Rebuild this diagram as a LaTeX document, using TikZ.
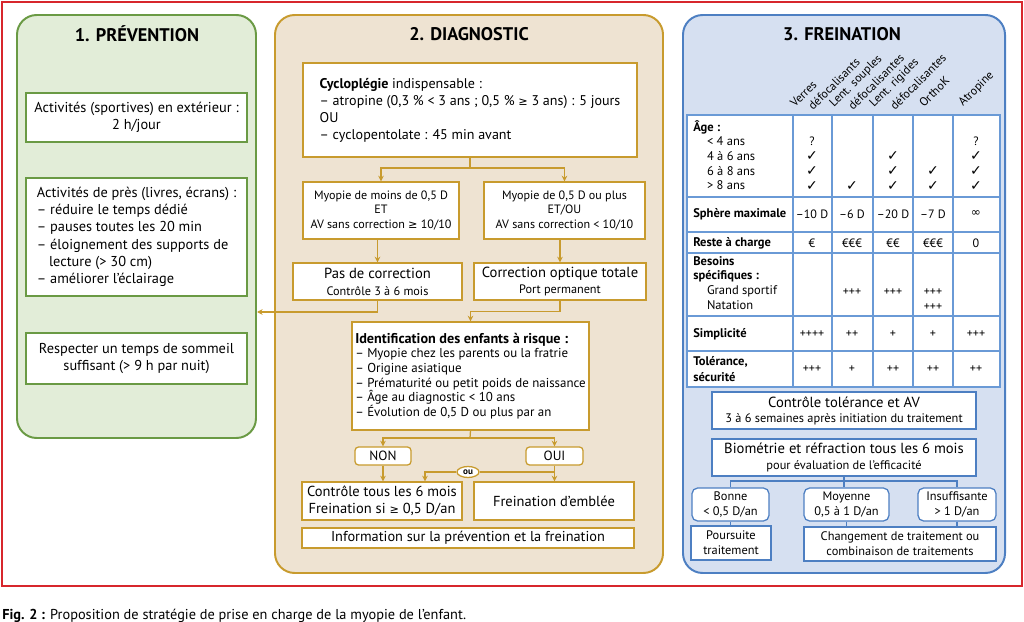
\documentclass[tikz,border=0pt]{standalone}
\usepackage{fontspec}
\setmainfont{PT Sans}
\newfontfamily\symfont{DejaVu Sans}
\usepackage{tikz}
\usetikzlibrary{positioning, arrows.meta, shapes.geometric}

\definecolor{framered}{HTML}{D7262C}
\definecolor{prevgreen}{HTML}{6A9A44}
\definecolor{prevfill}{HTML}{E2EDD8}
\definecolor{diaggold}{HTML}{C89B2E}
\definecolor{diagfill}{HTML}{EEE3D2}
\definecolor{freinblue}{HTML}{4D7FC2}
\definecolor{freinfill}{HTML}{D6E0F1}
\definecolor{tblblue}{HTML}{6A9AD6}

\newlength{\px}
\setlength{\px}{0.025cm}
\newcommand{\ok}{{\symfont\fontsize{10}{10}\selectfont ✓}}
\newcommand{\gesym}{{\symfont\fontsize{8}{9}\selectfont ≥}}
\newcommand{\infsym}{{\symfont ∞}}
\newcommand{\fbig}{\fontsize{10.4}{11.5}\selectfont}
\newcommand{\fsmall}{\fontsize{8.7}{10.5}\selectfont}

\begin{document}
\begin{tikzpicture}[
    x=0.025cm, y=-0.025cm,
    every node/.style={align=center, text=black},
    boxsize/.style 2 args={minimum width=#1\px, minimum height=#2\px},
    panel_green/.style={draw=prevgreen, fill=prevfill, line width=1.4pt, rounded corners=14pt},
    panel_tan/.style={draw=diaggold, fill=diagfill, line width=1.4pt, rounded corners=14pt},
    panel_blue/.style={draw=freinblue, fill=freinfill, line width=1.4pt, rounded corners=14pt},
    panel_title/.style={font=\fontsize{13}{15}\selectfont\bfseries},
    box_green/.style={rectangle, draw=prevgreen, fill=white, line width=0.9pt, inner sep=0pt,
        font=\fontsize{10.2}{12.3}\selectfont},
    box_tan/.style={rectangle, draw=diaggold, fill=white, line width=0.9pt, inner sep=0pt,
        font=\fontsize{10.2}{12}\selectfont},
    box_blue/.style={rectangle, draw=freinblue, fill=white, line width=0.9pt, inner sep=0pt,
        font=\fontsize{8.8}{10.8}\selectfont},
    tag_tan/.style={box_tan, rounded corners=2.5pt, font=\fontsize{9.5}{11}\selectfont},
    tag_blue/.style={box_blue, rounded corners=4pt},
    ou_mark/.style={ellipse, draw=diaggold, fill=white, line width=0.9pt, inner sep=0.6pt,
        minimum width=22\px, minimum height=11\px, font=\fontsize{6.5}{7}\selectfont\bfseries},
    cell/.style={inner sep=0pt, font=\fontsize{8.6}{10}\selectfont},
    row_label/.style={inner sep=0pt, align=left, font=\fontsize{8.9}{10.4}\selectfont},
    col_head/.style={inner sep=0pt, rotate=45, anchor=base west, font=\fontsize{8.5}{10}\selectfont},
    tbl_line/.style={draw=tblblue, line width=1.1pt},
    arrow/.style={draw=diaggold, line width=0.9pt, -{Stealth[length=4pt, width=4pt]}},
    link/.style={draw=diaggold, line width=0.9pt},
    tree/.style={draw=freinblue, line width=0.9pt}
]
    \useasboundingbox (0,0) rectangle (1024,622);
    \draw[framered, line width=1.5pt] (2,2) rectangle (1022,586);

    % 1. prevention
    \draw[panel_green] (17,15) rectangle (256,438);
    \node[panel_title] (t_prev) at (137,34) {1. PRÉVENTION};
    \node[box_green, boxsize={221}{49}] (p_ext) at (136.5,117.5) {Activités (sportives) en extérieur :\\2 h/jour};
    \node[box_green, boxsize={221}{118}, align=left] (p_near) at (136.5,237) {Activités de près (livres, écrans) :\\
        – réduire le temps dédié\\– pauses toutes les 20 min\\– éloignement des supports de\\
        \hspace*{0.85em}lecture (> 30 cm)\\– améliorer l’éclairage};
    \node[box_green, boxsize={221}{51}] (p_sleep) at (136.5,358.5) {Respecter un temps de sommeil\\suffisant (> 9 h par nuit)};

    % 2. diagnostic
    \draw[panel_tan] (275,15) rectangle (663,573);
    \node[panel_title] (t_diag) at (469,34) {2. DIAGNOSTIC};
    \node[box_tan, boxsize={334}{94}, align=left, font=\fontsize{10}{12.1}\selectfont] (d_cyclo) at (470,110) {%
        \textbf{Cycloplégie} indispensable :\\
        – atropine (0,3 \% < 3 ans ; 0,5 \% \gesym{} 3 ans) : 5 jours\\
        OU\\
        – cyclopentolate : 45 min avant};
    \node[box_tan, boxsize={156}{57}, font=\fontsize{8.6}{10.6}\selectfont] (d_myo1) at (381,210.5) {%
        Myopie de moins de 0,5 D\\ET\\AV sans correction \gesym{} 10/10};
    \node[box_tan, boxsize={161}{57}, font=\fontsize{8.6}{10.6}\selectfont] (d_myo2) at (564.5,210.5) {%
        Myopie de 0,5 D ou plus\\ET/OU\\AV sans correction < 10/10};
    \node[box_tan, boxsize={169}{37}] (d_nocorr) at (377.5,281.5) {{\fbig Pas de correction}\\{\fsmall Contrôle 3 à 6 mois}};
    \node[box_tan, boxsize={172}{37}] (d_corr) at (560,281.5) {{\fbig Correction optique totale}\\{\fsmall Port permanent}};
    \node[box_tan, boxsize={237}{108}, align=left, font=\fontsize{9.2}{10.4}\selectfont] (d_risk) at (470.5,376) {%
        {\fontsize{10.1}{11}\selectfont\bfseries Identification des enfants à risque :}\\
        – Myopie chez les parents ou la fratrie\\
        – Origine asiatique\\
        – Prématurité ou petit poids de naissance\\
        – Âge au diagnostic < 10 ans\\
        – Évolution de 0,5 D ou plus par an};
    \node[tag_tan, boxsize={56}{18}] (d_non) at (383,456) {NON};
    \node[tag_tan, boxsize={57}{18}] (d_oui) at (554.5,456) {OUI};
    \node[ou_mark] (d_ou) at (468,472) {ou};
    \node[box_tan, boxsize={160}{38}, font=\fontsize{10.3}{12}\selectfont] (d_watch) at (382,501) {%
        Contrôle tous les 6 mois\\Freination si \gesym{} 0,5 D/an};
    \node[box_tan, boxsize={160}{38}, font=\fontsize{10.3}{12}\selectfont] (d_brake) at (554,501) {Freination d’emblée};
    \node[box_tan, boxsize={332}{20}] (d_info) at (468,538) {Information sur la prévention et la freination};

    \coordinate (split_cyclo) at (470,168);
    \coordinate (prev_in) at (257,312);
    \coordinate (split_risk) at (470,438);
    \coordinate (ou_drop) at (425,472);
    \draw[link] (d_cyclo.south) -- (split_cyclo);
    \draw[arrow] (split_cyclo) -| (d_myo1.north);
    \draw[arrow] (split_cyclo) -| (d_myo2.north);
    \draw[arrow] (d_nocorr.north |- d_myo1.south) -- (d_nocorr.north);
    \draw[arrow] (d_corr.north |- d_myo2.south) -- (d_corr.north);
    \draw[arrow] (d_nocorr.south) |- (prev_in);
    \draw[arrow] (d_corr.south) -- ++(0,11) -| (d_risk.north);
    \draw[link] (d_risk.south) -- (split_risk);
    \draw[arrow] (split_risk) -| (d_non.north);
    \draw[arrow] (split_risk) -| (d_oui.north);
    \draw[arrow] (d_non.south) -- (d_non.south |- d_watch.north);
    \draw[arrow] (d_oui.south) -- (d_oui.south |- d_brake.north);
    \draw[link] (d_ou.east) -- (d_ou.east -| d_oui.south);
    \draw[arrow] (d_ou.west) -- (ou_drop) -- (ou_drop |- d_watch.north);

    % 3. freination
    \draw[panel_blue] (683,15) rectangle (1005,573);
    \node[panel_title] (t_frein) at (842,34) {3. FREINATION};

    \node[col_head] (h_verres) at (795,108) {Verres};
    \node[col_head] (h_verres2) at (813,111) {défocalisants};
    \node[col_head] (h_souples) at (834,108) {Lent. souples};
    \node[col_head] (h_souples2) at (853,111) {défocalisantes};
    \node[col_head] (h_rigides) at (874,108) {Lent. rigides};
    \node[col_head] (h_rigides2) at (895,111) {défocalisantes};
    \node[col_head] (h_orthok) at (924,108) {OrthoK};
    \node[col_head] (h_atropine) at (963,107) {Atropine};

    \fill[white] (687,115) rectangle (1000,387);
    \foreach \cx in {793,832,873,913,953}
        \draw[tbl_line] (\cx,115) -- (\cx,387);
    \foreach \ry in {197,232,253,316,351}
        \draw[tbl_line] (687,\ry) -- (1000,\ry);
    \draw[tbl_line] (687,115) rectangle (1000,387);

    \node[row_label, anchor=north west] (r_age) at (693,120) {%
        \textbf{Âge :}\\
        \hspace*{1.1em}< 4 ans\\\hspace*{1.1em}4 à 6 ans\\\hspace*{1.1em}6 à 8 ans\\\hspace*{1.1em}> 8 ans};
    \node[row_label, anchor=west, font=\fontsize{8.9}{10.4}\selectfont\bfseries] (r_sphere) at (693,214) {Sphère maximale};
    \node[row_label, anchor=west, font=\fontsize{8.9}{10.4}\selectfont\bfseries] (r_cost) at (693,243) {Reste à charge};
    \node[row_label, anchor=north west] (r_needs) at (693,256) {%
        \textbf{Besoins}\\\textbf{spécifiques :}\\
        \hspace*{1.1em}Grand sportif\\\hspace*{1.1em}Natation};
    \node[row_label, anchor=west, font=\fontsize{8.9}{10.4}\selectfont\bfseries] (r_simple) at (693,334) {Simplicité};
    \node[row_label, anchor=west, font=\fontsize{8.9}{11}\selectfont\bfseries] (r_safe) at (693,369) {Tolérance,\\sécurité};

    \foreach \cx/\cy/\txt [count=\i] in {812/141/?, 812/156/\ok, 812/171/\ok, 812/186/\ok,
            852/186/\ok, 893/156/\ok, 893/171/\ok, 893/186/\ok, 933/171/\ok, 933/186/\ok,
            976/141/?, 976/156/\ok, 976/171/\ok, 976/186/\ok}
        \node[cell] (age-\i) at (\cx,\cy) {\txt};
    \foreach \cx/\txt [count=\i] in {812/{–10 D}, 852/{–6 D}, 893/{–20 D}, 933/{–7 D}, 976/\infsym}
        \node[cell] (sphere-\i) at (\cx,214) {\txt};
    \foreach \cx/\txt [count=\i] in {812/€, 852/€€€, 893/€€, 933/€€€, 976/0}
        \node[cell] (cost-\i) at (\cx,243) {\txt};
    \foreach \cx/\cy [count=\i] in {852/292, 893/292, 933/292, 933/307}
        \node[cell] (needs-\i) at (\cx,\cy) {+++};
    \foreach \cx/\txt [count=\i] in {812/++++, 852/++, 893/+, 933/+, 976/+++}
        \node[cell] (simple-\i) at (\cx,334) {\txt};
    \foreach \cx/\txt [count=\i] in {812/+++, 852/+, 893/++, 933/++, 976/++}
        \node[cell] (safe-\i) at (\cx,369) {\txt};

    \node[box_blue, boxsize={264}{37}] (f_check) at (844,410.5) {{\fbig Contrôle tolérance et AV}\\
        {\fontsize{8.8}{10.5}\selectfont 3 à 6 semaines après initiation du traitement}};
    \node[box_blue, boxsize={264}{37}] (f_bio) at (844,457.5) {{\fbig Biométrie et réfraction tous les 6 mois}\\
        {\fontsize{8.8}{10.5}\selectfont pour évaluation de l’efficacité}};
    \node[tag_blue, boxsize={77}{33}] (f_good) at (730.5,504.5) {Bonne\\< 0,5 D/an};
    \node[tag_blue, boxsize={85}{33}] (f_mid) at (846.5,504.5) {Moyenne\\0,5 à 1 D/an};
    \node[tag_blue, boxsize={78}{33}] (f_bad) at (957,504.5) {Insuffisante\\> 1 D/an};
    \node[box_blue, boxsize={80}{34}] (f_keep) at (731,543) {Poursuite\\traitement};
    \node[box_blue, boxsize={192}{34}] (f_change) at (900,544) {Changement de traitement ou\\combinaison de traitements};

    \coordinate (split_bio) at (844,481);
    \draw[tree] (f_bio.south) -- (f_bio.south |- f_mid.north);
    \draw[tree] (f_good.north) |- (split_bio) -| (f_bad.north);
    \draw[tree] (f_good.south) -- (f_good.south |- f_keep.north);
    \draw[tree] (f_mid.south) -- (f_mid.south |- f_change.north);
    \draw[tree] (f_bad.south) -- (f_bad.south |- f_change.north);

    % legende
    \node[anchor=base west, inner sep=0pt, font=\fontsize{10.2}{12}\selectfont] (caption) at (2,619) {%
        \textbf{Fig. 2 :} Proposition de stratégie de prise en charge de la myopie de l’enfant.};
\end{tikzpicture}
\end{document}
